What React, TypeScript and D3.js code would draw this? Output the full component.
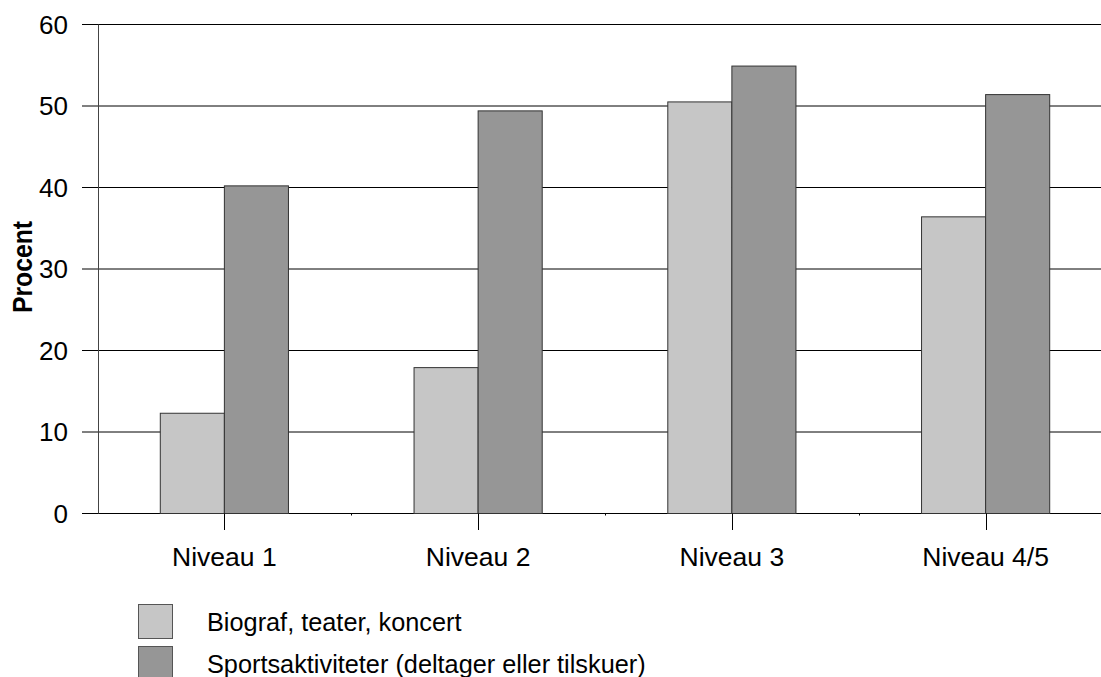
import React, { useEffect, useRef } from "react";
import * as d3 from "d3";

const categories = ["Niveau 1", "Niveau 2", "Niveau 3", "Niveau 4/5"];
const seriesNames = ["Biograf, teater, koncert", "Sportsaktiviteter (deltager eller tilskuer)"];
const biografValues = [12.3, 17.9, 50.5, 36.4];
const sportValues = [40.2, 49.4, 54.9, 51.4];
const yTicks = [0, 10, 20, 30, 40, 50, 60];
const seriesColors = ["#c6c6c6", "#969696"];

const W = 1101;
const H = 677;

export default function App() {
  const ref = useRef<SVGSVGElement>(null);

  useEffect(() => {
    const svg = d3.select(ref.current);
    svg.selectAll("*").remove();
    const font = "'Liberation Sans', Arial, sans-serif";

    const y = d3.scaleLinear().domain([0, 60]).range([513.5, 24.5]);
    const x0 = d3.scaleBand<string>().domain(categories).range([97.5, 1112.5]).padding(0);
    const step = x0.bandwidth();
    const x1 = d3
      .scaleBand<string>()
      .domain(seriesNames)
      .range([0, step])
      .paddingInner(0)
      .paddingOuter(0.98);

    // gridlines + left tick marks
    svg
      .append("g")
      .selectAll("line")
      .data(yTicks)
      .join("line")
      .attr("x1", 82)
      .attr("x2", W)
      .attr("y1", (d) => y(d))
      .attr("y2", (d) => y(d))
      .attr("stroke", "#000")
      .attr("stroke-width", 1);

    // y tick labels
    svg
      .append("g")
      .selectAll("text")
      .data(yTicks)
      .join("text")
      .attr("x", 68)
      .attr("y", (d) => y(d))
      .attr("dy", "0.36em")
      .attr("text-anchor", "end")
      .attr("font-family", font)
      .attr("font-size", 26)
      .attr("fill", "#000")
      .text((d) => String(d));

    // bars
    const data = categories.map((c, i) => ({ c, vals: [biografValues[i], sportValues[i]] }));
    const groups = svg
      .append("g")
      .selectAll("g")
      .data(data)
      .join("g")
      .attr("transform", (d) => `translate(${x0(d.c)},0)`);
    groups
      .selectAll("rect")
      .data((d) => d.vals.map((v, j) => ({ v, s: seriesNames[j], j })))
      .join("rect")
      .attr("x", (d) => x1(d.s)!)
      .attr("width", x1.bandwidth())
      .attr("y", (d) => y(d.v))
      .attr("height", (d) => y(0) - y(d.v))
      .attr("fill", (d) => seriesColors[d.j])
      .attr("stroke", "#333")
      .attr("stroke-width", 1);

    // y axis line
    svg
      .append("line")
      .attr("x1", 98.5)
      .attr("x2", 98.5)
      .attr("y1", y(60))
      .attr("y2", y(0))
      .attr("stroke", "#444")
      .attr("stroke-width", 1);

    // x axis ticks at category centers
    svg
      .append("g")
      .selectAll("line")
      .data(categories)
      .join("line")
      .attr("x1", (d) => Math.round(x0(d)! + step / 2) + 0.5)
      .attr("x2", (d) => Math.round(x0(d)! + step / 2) + 0.5)
      .attr("y1", y(0))
      .attr("y2", 530)
      .attr("stroke", "#000")
      .attr("stroke-width", 1);

    // small ticks at category boundaries
    svg
      .append("g")
      .selectAll("line")
      .data(categories.slice(1))
      .join("line")
      .attr("x1", (d) => Math.round(x0(d)!) + 0.5)
      .attr("x2", (d) => Math.round(x0(d)!) + 0.5)
      .attr("y1", y(0))
      .attr("y2", y(0) + 2)
      .attr("stroke", "#000")
      .attr("stroke-width", 1);

    // x labels
    svg
      .append("g")
      .selectAll("text")
      .data(categories)
      .join("text")
      .attr("x", (d) => x0(d)! + step / 2)
      .attr("y", 566)
      .attr("text-anchor", "middle")
      .attr("font-family", font)
      .attr("font-size", 26.5)
      .attr("fill", "#000")
      .text((d) => d);

    // y axis title
    svg
      .append("text")
      .attr("transform", "translate(32,267) rotate(-90)")
      .attr("text-anchor", "middle")
      .attr("font-family", font)
      .attr("font-size", 27)
      .attr("font-weight", "bold")
      .attr("fill", "#000")
      .attr("textLength", 92)
      .attr("lengthAdjust", "spacingAndGlyphs")
      .text("Procent");

    // legend
    const leg = svg
      .append("g")
      .selectAll("g")
      .data(seriesNames)
      .join("g")
      .attr("transform", (_d, i) => `translate(0,${i * 42})`);
    leg
      .append("rect")
      .attr("x", 138.5)
      .attr("y", 604.5)
      .attr("width", 34)
      .attr("height", 34)
      .attr("fill", (_d, i) => seriesColors[i])
      .attr("stroke", "#555")
      .attr("stroke-width", 1);
    leg
      .append("text")
      .attr("x", 207)
      .attr("y", 631)
      .attr("font-family", font)
      .attr("font-size", 25.3)
      .attr("fill", "#000")
      .text((d) => d);
  }, []);

  return (
    <svg
      ref={ref}
      width={W}
      height={H}
      style={{ position: "absolute", left: 0, top: 0, background: "#fff" }}
    />
  );
}
